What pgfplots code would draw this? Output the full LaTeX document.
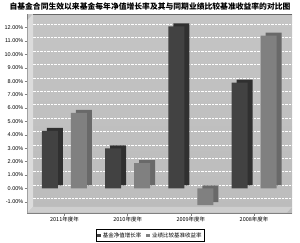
\documentclass[border=0pt]{standalone}
\usepackage{fontspec}
\setmainfont{Liberation Sans}
\newfontfamily\cjk{Noto Sans CJK SC}
\usepackage{pgfplots}
\pgfplotsset{compat=1.18}
\definecolor{backtop}{RGB}{196,196,196}
\definecolor{backbot}{RGB}{188,188,188}
\definecolor{sidewall}{RGB}{220,220,220}
\definecolor{floorc}{RGB}{206,206,206}
\colorlet{darkfront}{black!74}
\colorlet{darkside}{black!81}
\colorlet{lightfront}{black!50}
\colorlet{lightside}{black!59}
\begin{document}
\begin{tikzpicture}[x=1pt,y=1pt]
\path[use as bounding box, fill=white] (0,0) rectangle (300,242);
\shade[top color=backtop, bottom color=backbot] (27pt,29pt) rectangle (292pt,228pt);
\node[font=\cjk\bfseries\fontsize{7.8}{9}\selectfont, inner sep=0pt] at (150,235) {自基金合同生效以来基金每年净值增长率及其与同期业绩比较基准收益率的对比图};
\begin{axis}[
  at={(27pt,29pt)}, anchor=south west,
  scale only axis, width=265pt, height=199pt,
  xmin=-0.593, xmax=3.6, ymin=-1.83, ymax=13.02,
  axis x line*=bottom, axis y line*=left,
  axis line style={gray, thin},
  ytick={-1,0,...,12},
  /pgf/number format/assume math mode=true,
  yticklabel={\pgfmathprintnumber[fixed,fixed zerofill,precision=2]{\tick}\%},
  yticklabel style={font=\fontsize{5.5}{6}\selectfont, inner sep=1pt},
  xtick={0,1,2,3},
  xticklabels={2011年度年,2010年度年,2009年度年,2008年度年},
  xticklabel style={font=\cjk\fontsize{5.5}{6}\selectfont, inner sep=1pt},
  tick style={gray, thin}, tick align=outside, major tick length=2.5pt,
  ymajorgrids, major grid style={white, densely dotted, yshift=3.5pt},
  ybar, bar width=16pt,
  legend columns=2,
  legend style={at={(0.466,-0.113)}, anchor=center, draw=black, line width=0.4pt,
    font=\cjk\fontsize{5.5}{6}\selectfont, inner sep=1pt, row sep=0pt,
    /tikz/every even column/.append style={column sep=3pt}},
  legend image code/.code={\fill[#1,draw=none] (0pt,-1.8pt) rectangle (3.6pt,1.8pt);},
]
\fill[sidewall] (axis cs:-0.585,-1.83) -- (axis cs:-0.585,12.57) -- (axis cs:-0.498,13.02) -- (axis cs:-0.498,-1.38) -- cycle;
\fill[floorc] (axis cs:-0.585,-1.80) -- (axis cs:3.52,-1.80) -- (axis cs:3.6,-1.38) -- (axis cs:-0.498,-1.38) -- cycle;
\draw[black!60, thin] (axis cs:-0.498,13.0) -- (axis cs:3.6,13.0);
% depth faces
\addplot[ybar, bar shift=-9.5pt, fill=darkside, draw=none, yshift=3pt, forget plot]
  coordinates {(0,4.3) (1,3.0) (2,12.1) (3,7.9)};
\addplot[ybar, bar shift=19.5pt, fill=lightside, draw=none, yshift=3pt, forget plot]
  coordinates {(0,5.65) (1,1.9) (2,-1.25) (3,11.4)};
% front faces
\addplot[ybar, bar shift=-14.5pt, fill=darkfront, draw=none]
  coordinates {(0,4.3) (1,3.0) (2,12.1) (3,7.9)};
\addlegendentry{基金净值增长率}
\addplot[ybar, bar shift=14.5pt, fill=lightfront, draw=none]
  coordinates {(0,5.65) (1,1.9) (2,-1.25) (3,11.4)};
\addlegendentry{业绩比较基准收益率}
\end{axis}
\end{tikzpicture}
\end{document}
